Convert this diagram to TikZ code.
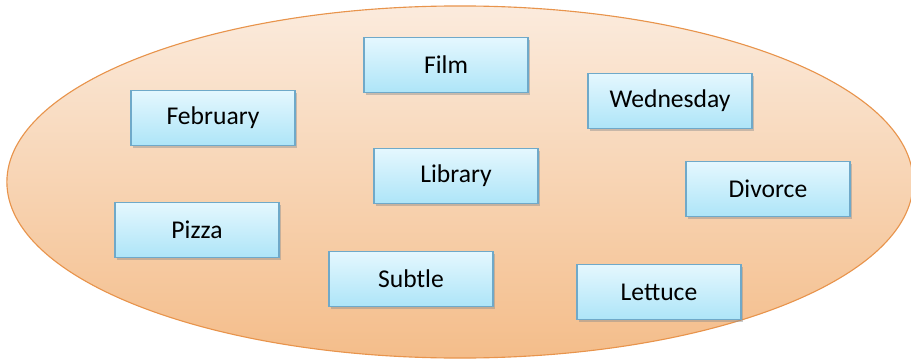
\documentclass[tikz,border=0pt]{standalone}
\usepackage{fontspec}
\setmainfont{Carlito}
\usetikzlibrary{positioning, shadows}

\definecolor{boxtop}{HTML}{E4F7FE}
\definecolor{boxbottom}{HTML}{AEE5F8}
\definecolor{boxline}{HTML}{6FA9C9}
\definecolor{setline}{HTML}{E8944C}
\definecolor{settop}{HTML}{FBEBDD}
\definecolor{setbottom}{HTML}{F4BD8A}

\tikzset{
  wordbox/.style={draw=boxline, thick, top color=boxtop, bottom color=boxbottom,
    minimum width=4.1cm, minimum height=1.375cm, inner sep=0pt,
    font=\fontsize{18.2}{21}\selectfont,
    drop shadow={shadow xshift=1.5pt, shadow yshift=-2pt, fill=black!45, opacity=.45}},
  wordset/.style={draw=setline, thick, top color=settop, bottom color=setbottom}
}

\begin{document}
\begin{tikzpicture}[x=0.025cm, y=-0.025cm]
    \useasboundingbox (0,0) rectangle (911,360);

    % Draw the set
    \path[wordset] (460,182) ellipse [x radius=11.325cm, y radius=4.4cm];

    % Words
    \foreach \name/\x/\y/\word in {film/446/65/Film, feb/213/118/February, wed/670/101/Wednesday,
      lib/456/176/Library, div/768/189/Divorce, pizza/197/230/Pizza, subtle/411/279/Subtle,
      lettuce/659/292/Lettuce} {
      \node[wordbox] (\name) at (\x,\y) {\word};
    }

\end{tikzpicture}
\end{document}
